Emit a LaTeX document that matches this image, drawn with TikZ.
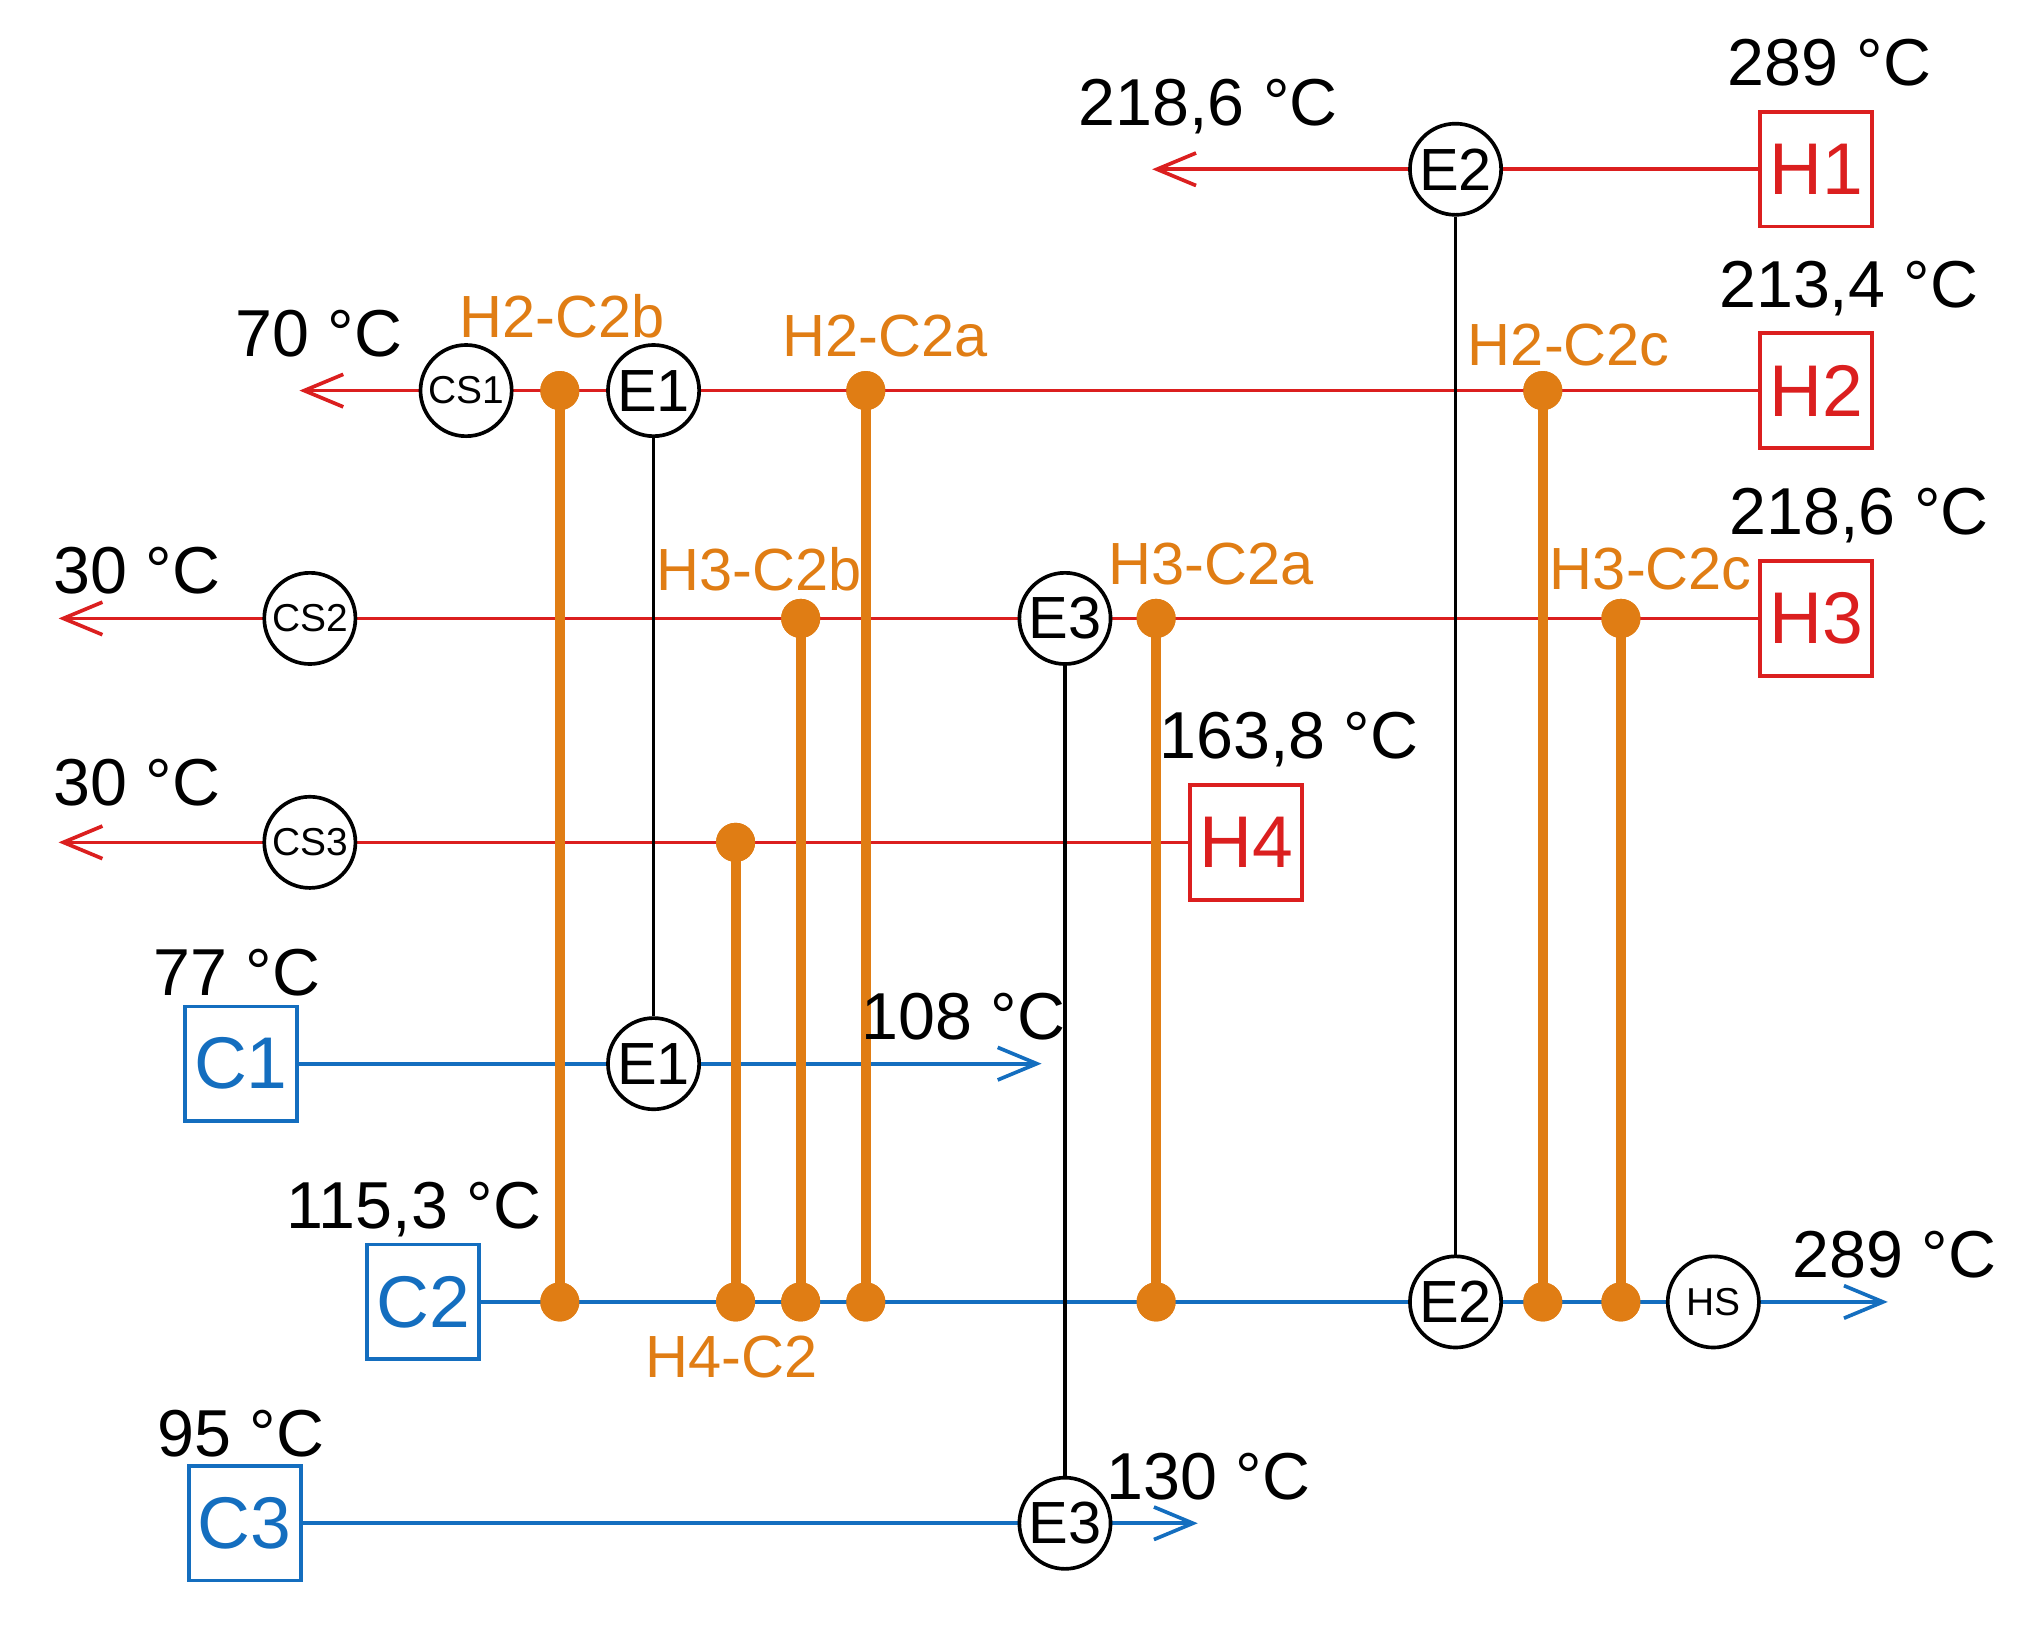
\documentclass[tikz,border=0pt]{standalone}
\usepackage{fontspec}
\setmainfont{Liberation Sans}
\usetikzlibrary{arrows.meta}
\definecolor{hotcol}{rgb}{0.86,0.12,0.12}
\definecolor{coldcol}{rgb}{0.08,0.43,0.75}
\definecolor{matchcol}{rgb}{0.88,0.49,0.08}
\tikzset{
  hx/.style={draw,circle,thick,fill=white,minimum size=0.7cm,inner sep=0pt,font=\fontsize{13}{13}\selectfont},
  ux/.style={hx,font=\fontsize{8.5}{8.5}\selectfont},
  hbox/.style={draw=hotcol,thick,text=hotcol,inner sep=0pt,minimum width=0.86cm,minimum height=0.88cm,font=\fontsize{16}{16}\selectfont},
  cbox/.style={hbox,draw=coldcol,text=coldcol},
  hline/.style={draw=hotcol,thick},
  cline/.style={draw=coldcol,thick},
  mline/.style={draw=matchcol,line width=2.2pt},
  xline/.style={draw=black,thick},
  dot/.style={circle,fill=matchcol,minimum size=0.3cm,inner sep=0pt},
  lbl/.style={font=\fontsize{14.5}{14.5}\selectfont},
  mlbl/.style={text=matchcol,font=\fontsize{13}{13}\selectfont},
  tip/.style={-{Straight Barb[length=0.3cm,width=0.25cm]}}
}
\begin{document}
\begin{tikzpicture}[x=0.01cm,y=-0.01cm]
\useasboundingbox (0,0) rectangle (1560,1260);
%% streams
\node (H1) at (1395,130) [hbox] {H1};
\node (H2) at (1395,300) [hbox] {H2};
\node (H3) at (1395,475) [hbox] {H3};
\node (H4) at (957,647) [hbox] {H4};
\node (C1) at (185,817) [cbox] {C1};
\node (C2) at (325,1000) [cbox] {C2};
\node (C3) at (188,1170) [cbox] {C3};
\coordinate (h1e) at (885,130);
\coordinate (h2e) at (230,300);
\coordinate (h3e) at (45,475);
\coordinate (h4e) at (45,647);
\coordinate (c1e) at (800,817);
\coordinate (c2e) at (1450,1000);
\coordinate (c3e) at (920,1170);
%% matches
\node (m1) at (430,300) [dot] {};
\node (m2) at (665,300) [dot] {};
\node (m3) at (1185,300) [dot] {};
\node (m4) at (615,475) [dot] {};
\node (m5) at (888,475) [dot] {};
\node (m6) at (1245,475) [dot] {};
\node (m7) at (565,647) [dot] {};
\node (n1) at (430,1000) [dot] {};
\node (n2) at (665,1000) [dot] {};
\node (n3) at (1185,1000) [dot] {};
\node (n4) at (615,1000) [dot] {};
\node (n5) at (888,1000) [dot] {};
\node (n6) at (1245,1000) [dot] {};
\node (n7) at (565,1000) [dot] {};
\draw [hline,tip] (H1) -- (h1e);
\draw [hline,tip] (H2) -- (h2e);
\draw [hline,tip] (H3) -- (h3e);
\draw [hline,tip] (H4) -- (h4e);
\draw [cline,tip] (C1) -- (c1e);
\draw [cline,tip] (C2) -- (c2e);
\draw [cline,tip] (C3) -- (c3e);
\foreach \i in {1,...,7} {\draw [mline] (m\i.center) -- (n\i.center);}
\foreach \i in {1,...,7} {\node at (m\i) [dot] {}; \node at (n\i) [dot] {};}
%% exchangers
\node (E2a) at (1118,130) [hx] {E2};
\node (E2b) at (1118,1000) [hx] {E2};
\node (E1a) at (502,300) [hx] {E1};
\node (E1b) at (502,817) [hx] {E1};
\node (E3a) at (818,475) [hx] {E3};
\node (E3b) at (818,1170) [hx] {E3};
\draw [xline] (E2a) -- (E2b);
\draw [xline] (E1a) -- (E1b);
\draw [xline] (E3a) -- (E3b);
\node (CS1) at (358,300) [ux] {CS1};
\node (CS2) at (238,475) [ux] {CS2};
\node (CS3) at (238,647) [ux] {CS3};
\node (HS) at (1316,1000) [ux] {HS};
%% temperatures
\node (t1) at (928,82) [lbl] {218,6 °C};
\node (t2) at (1405,48) [lbl] {289 °C};
\node (t3) at (1420,222) [lbl] {213,4 °C};
\node (t4) at (1428,396) [lbl] {218,6 °C};
\node (t5) at (990,568) [lbl] {163,8 °C};
\node (t6) at (245,256) [lbl] {70 °C};
\node (t7) at (105,438) [lbl] {30 °C};
\node (t8) at (105,601) [lbl] {30 °C};
\node (t9) at (182,747) [lbl] {77 °C};
\node (t10) at (740,781) [lbl] {108 °C};
\node (t11) at (318,929) [lbl] {115,3 °C};
\node (t12) at (1455,964) [lbl] {289 °C};
\node (t13) at (185,1101) [lbl] {95 °C};
\node (t14) at (928,1134) [lbl] {130 °C};
%% match labels
\node (l1) at (432,243) [mlbl] {H2-C2b};
\node (l2) at (680,258) [mlbl] {H2-C2a};
\node (l3) at (1205,265) [mlbl] {H2-C2c};
\node (l4) at (583,437) [mlbl] {H3-C2b};
\node (l5) at (930,433) [mlbl] {H3-C2a};
\node (l6) at (1268,437) [mlbl] {H3-C2c};
\node (l7) at (562,1042) [mlbl] {H4-C2};
\end{tikzpicture}
\end{document}
